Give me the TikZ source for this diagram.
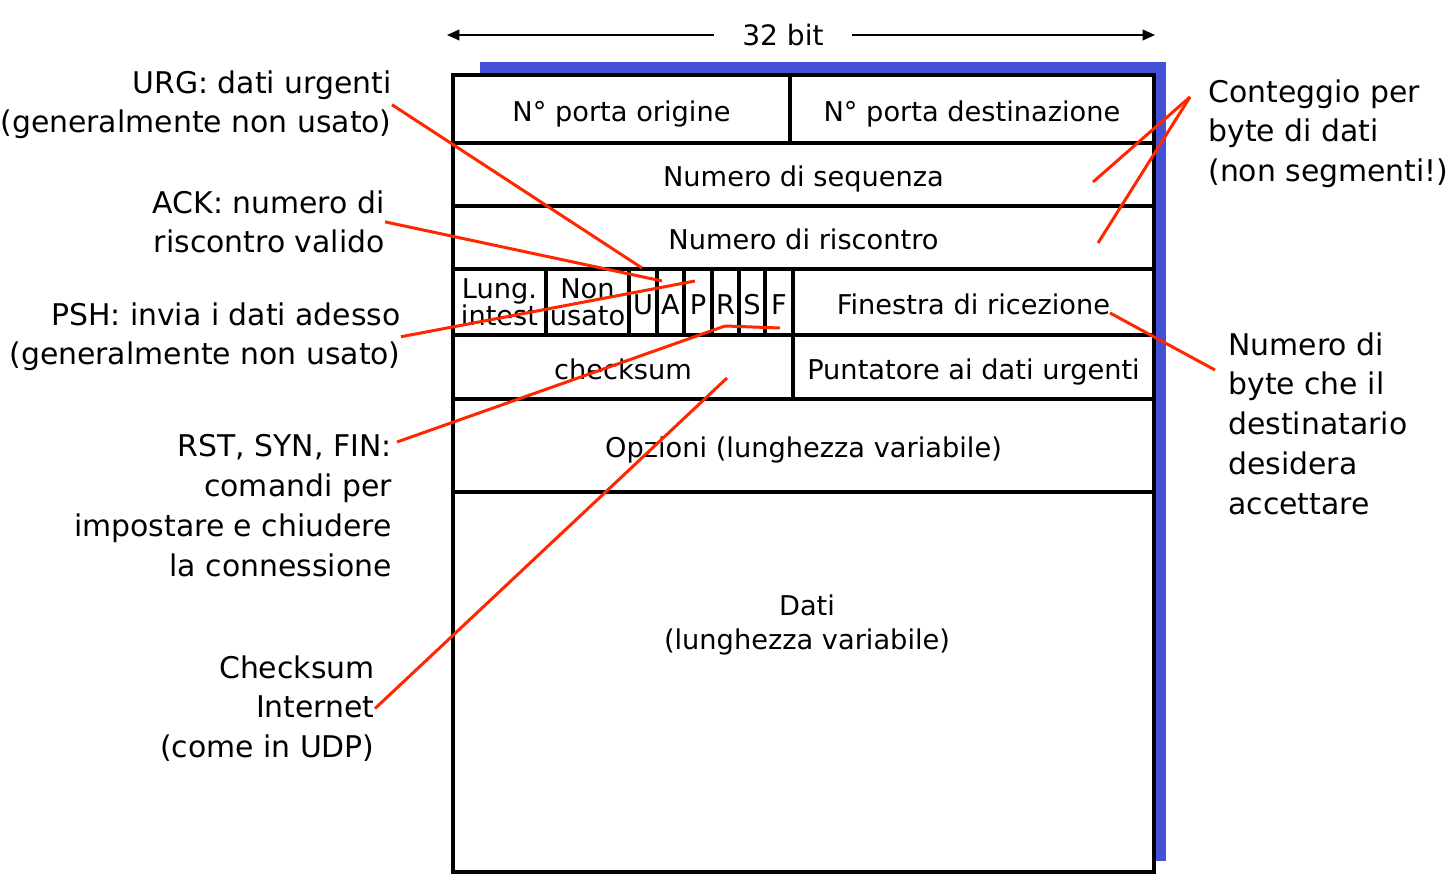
\documentclass[tikz,border=0pt]{standalone}
\usepackage{fontspec}
\setmainfont{DejaVu Sans}
\usetikzlibrary{arrows.meta}
\definecolor{shadowblue}{RGB}{68,80,214}
\definecolor{linered}{RGB}{255,38,0}

\begin{document}
\begin{tikzpicture}[x=0.02cm,y=-0.02cm]
\useasboundingbox (0,0) rectangle (1454,884);

\fill[shadowblue] (480,62) rectangle (1166,861);

\node[inner xsep=16pt,inner ysep=0pt,font=\fontsize{16}{16}\selectfont] (bits) at (783,35) {32 bit};
\coordinate (lend) at (447,35);
\coordinate (rend) at (1155,35);
\draw[-{Triangle[length=7pt,width=6pt]},line width=1.1pt] (bits) -- (lend);
\draw[-{Triangle[length=7pt,width=6pt]},line width=1.1pt] (bits) -- (rend);

\begin{scope}[every node/.style={draw,fill=white,line width=1.8pt,inner sep=0pt,outer sep=0pt,
                                 anchor=north west,align=center,font=\fontsize{15.5}{15.5}\selectfont},
              fld/.style 2 args={minimum width=#1*0.02cm,minimum height=#2*0.02cm},
              low/.style={text height=14pt,text depth=0pt}]
	\node[fld={337}{68},low] (src) at (453,75) {N° porta origine};
	\node[fld={364}{68},low] (dst) at (790,75) {N° porta destinazione};
	\node[fld={701}{63},low] (seq) at (453,143) {Numero di sequenza};
	\node[fld={701}{63},low] (ackn) at (453,206) {Numero di riscontro};
	\node[fld={93}{66}] (hlen) at (453,269) {Lung.\\intest};
	\node[fld={83}{66}] (unused) at (546,269) {Non\\usato};
	\node[fld={28}{66},low] (u) at (629,269) {U};
	\node[fld={27}{66},low] (a) at (657,269) {A};
	\node[fld={28}{66},low] (p) at (684,269) {P};
	\node[fld={27}{66},low] (r) at (712,269) {R};
	\node[fld={26}{66},low] (s) at (739,269) {S};
	\node[fld={28}{66},low] (f) at (765,269) {F};
	\node[fld={361}{66},low] (wnd) at (793,269) {Finestra di ricezione};
	\node[fld={340}{64},low] (chk) at (453,335) {checksum};
	\node[fld={361}{64},low] (urgp) at (793,335) {Puntatore ai dati urgenti};
	\node[fld={701}{93},low] (opt) at (453,399) {Opzioni (lunghezza variabile)};
	\node[fld={701}{380}] (data) at (453,492) {};
\end{scope}

\node[align=center,inner sep=0pt,font=\fontsize{15.5}{19.3}\selectfont] (datitxt) at (807,625) {Dati\\(lunghezza variabile)};

\begin{scope}[every node/.style={inner sep=0pt,font=\fontsize{17}{22.7}\selectfont}]
	\node[anchor=north east,align=right] (urg) at (392,70) {URG: dati urgenti\\(generalmente non usato)};
	\node[anchor=north east,align=right] (ack) at (385,190) {ACK: numero di\\riscontro valido};
	\node[anchor=north east,align=right] (psh) at (401,302) {PSH: invia i dati adesso\\(generalmente non usato)};
	\node[anchor=north east,align=right] (rst) at (392,434) {RST, SYN, FIN:\\comandi per\\impostare e chiudere\\la connessione};
	\node[anchor=north east,align=right] (inet) at (375,655) {Checksum\\Internet\\(come in UDP)};
	\node[anchor=north west,align=left] (cnt) at (1208,79) {Conteggio per\\byte di dati\\(non segmenti!)};
	\node[anchor=north west,align=left] (num) at (1228,332) {Numero di\\byte che il\\destinatario\\desidera\\accettare};
\end{scope}

\coordinate (urgend) at (642,268);
\coordinate (ackend) at (662,281);
\coordinate (pshend) at (695,281);
\coordinate (rstbend) at (725,326);
\coordinate (rstend) at (780,328);
\coordinate (inetend) at (727,378);
\coordinate (seqend) at (1093,182);
\coordinate (acknend) at (1098,243);
\coordinate (wndend) at (1110,313);

\begin{scope}[every edge/.style={draw=linered,line width=1.7pt}]
	\path (urg.east) edge (urgend);
	\path (ack.east) edge (ackend);
	\path (psh.east) edge (pshend);
	\path ([shift={(5,8)}]rst.north east) edge (rstbend);
	\path (rstbend) edge (rstend);
	\path (inet.east) edge (inetend);
	\path ([shift={(-18,18)}]cnt.north west) edge (seqend);
	\path ([shift={(-18,18)}]cnt.north west) edge (acknend);
	\path ([shift={(-13,38)}]num.north west) edge (wndend);
\end{scope}
\end{tikzpicture}
\end{document}
